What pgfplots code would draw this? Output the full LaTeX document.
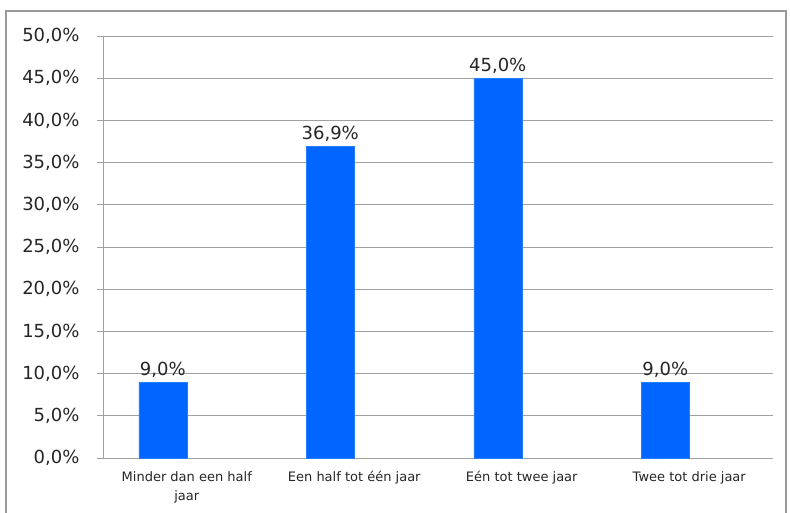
\documentclass[border=0pt]{standalone}
\usepackage{fontspec}
\setmainfont{DejaVu Sans}
\usepackage{pgfplots}
\pgfplotsset{compat=1.18}
\definecolor{barblue}{HTML}{0066FF}
\definecolor{gridgray}{HTML}{A0A0A0}
\definecolor{txt}{HTML}{262626}
\begin{document}
\begin{tikzpicture}[x=1pt,y=1pt]
\useasboundingbox (0,0) rectangle (790,512);
\fill[white] (0,0) rectangle (790,512);
\draw[gray!80,line width=1.5pt] (6,-2) rectangle (786,501);
\begin{axis}[
  at={(103pt,54pt)}, anchor=south west,
  scale only axis, width=670pt, height=422pt,
  xmin=-0.5, xmax=3.5, ymin=0, ymax=50,
  /pgf/number format/assume math mode=true,
  ytick={0,5,...,50},
  xtick={0,1,2,3},
  xticklabels={{Minder dan een half\\jaar},{Een half tot één jaar},{Eén tot twee jaar},{Twee tot drie jaar}},
  xticklabel style={align=center, font=\fontsize{13}{19}\selectfont, text=txt, anchor=north, yshift=-4pt},
  major x tick style={draw=none},
  extra x ticks={-0.5,0.5,1.5,2.5,3.5},
  extra x tick labels={},
  extra x tick style={major tick length=4pt, tick style={gridgray, line width=0.8pt}},
  yticklabel={\pgfmathprintnumber[fixed,fixed zerofill,precision=1,use comma,assume math mode=true]{\tick}\%},
  yticklabel style={font=\fontsize{18}{20}\selectfont, text=txt, anchor=east, xshift=-14pt},
  tick align=outside, major tick length=6pt,
  tick style={gridgray, line width=0.8pt},
  ymajorgrids, grid style={gridgray, line width=0.8pt},
  axis x line*=bottom, axis y line*=left,
  axis line style={gridgray, line width=0.8pt},
  separate axis lines,
  x axis line style={-}, y axis line style={-},
  ybar, bar width=48pt, bar shift=-24pt,
  nodes near coords={\pgfmathprintnumber[fixed,fixed zerofill,precision=1,use comma,assume math mode=true]{\pgfplotspointmeta}\%},
  nodes near coords style={font=\fontsize{18}{20}\selectfont, text=txt, anchor=south, yshift=1pt},
  clip=false,
]
\addplot[fill=barblue, draw=barblue!85!white] coordinates {(0,9.0) (1,36.9) (2,45.0) (3,9.0)};
\end{axis}
\end{tikzpicture}
\end{document}
